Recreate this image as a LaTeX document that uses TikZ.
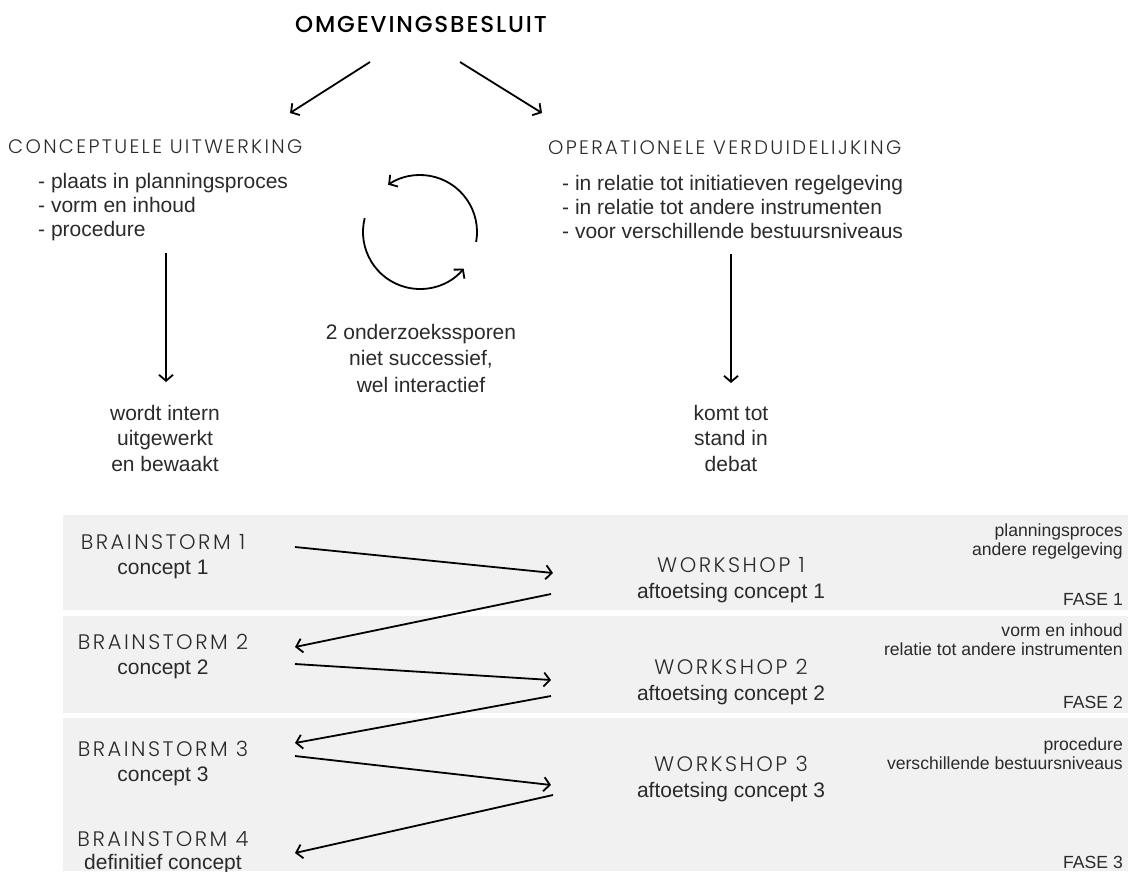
\documentclass[tikz,border=0pt]{standalone}
\usepackage{fontspec}
\setmainfont{Liberation Sans}
\newfontfamily\headfont[LetterSpace=12]{Poppins Light}
\newfontfamily\titlefont[LetterSpace=8]{Poppins Medium}
\usetikzlibrary{arrows.meta}
\definecolor{bandgray}{HTML}{F1F1F1}
\definecolor{ink}{HTML}{2A2A2A}
\tikzset{
  txt/.style={inner sep=0pt, text=ink},
  bodytext/.style={txt, font=\fontsize{21}{24}\selectfont},
  headtext/.style={txt, font=\headfont\fontsize{19.5}{22}\selectfont},
  titletext/.style={txt, text=black, font=\titlefont\fontsize{23}{25}\selectfont},
  stacked/.style={txt, align=center, font=\fontsize{21}{#1}\selectfont},
  sidenote/.style={txt, align=right, anchor=east, font=\fontsize{17.6}{19}\selectfont},
  conn/.style={draw=black, line width=1.8pt,
    -{Straight Barb[length=6pt,width=14pt,line width=1.8pt]}},
  band/.style={fill=bandgray, draw=none}
}
\begin{document}
\begin{tikzpicture}[x=1pt,y=-1pt]
\useasboundingbox (0,0) rectangle (1128,871);

% phase bands
\path[band] (63,515) rectangle (1128,610);
\path[band] (63,616) rectangle (1128,713);
\path[band] (63,718) rectangle (1128,871);

% top: decision and its two research tracks
\node[titletext] (title) at (421,24) {OMGEVINGSBESLUIT};
\node[headtext, anchor=west] (cu) at (8,147) {CONCEPTUELE UITWERKING};
\node[bodytext, anchor=west, align=left] (cul) at (38,207)
  {- plaats in planningsproces\\- vorm en inhoud\\- procedure};
\node[headtext, anchor=west] (ov) at (548,148) {OPERATIONELE VERDUIDELIJKING};
\node[bodytext, anchor=west, align=left] (ovl) at (562,207)
  {- in relatie tot initiatieven regelgeving\\- in relatie tot andere instrumenten\\- voor verschillende bestuursniveaus};

\node[stacked=25.5] (cur) at (165,438) {wordt intern\\uitgewerkt\\en bewaakt};
\node[stacked=25.5] (ovr) at (731,438) {komt tot\\stand in\\debat};
\node[stacked=26.5] (loop) at (421,358) {2 onderzoekssporen\\niet successief,\\wel interactief};

\coordinate (tl) at (370,62);
\coordinate (tr) at (460,62);
\coordinate (cuin) at (290,113);
\coordinate (ovin) at (542,113);
\draw[conn] (tl) -- (cuin);
\draw[conn] (tr) -- (ovin);

\coordinate (culout) at (166,253);
\coordinate (curin) at (166,382);
\coordinate (ovlout) at (731,254);
\coordinate (ovrin) at (731,383);
\draw[conn] (culout) -- (curin);
\draw[conn] (ovlout) -- (ovrin);

% interaction loop
\begin{scope}[shift={(420,232)}, yscale=-1]
  \draw[conn] (-10:57) arc[start angle=-10, end angle=124, radius=57];
  \draw[conn] (166:57) arc[start angle=166, end angle=320, radius=57];
\end{scope}

% bottom: brainstorms and workshops per phase
\node[stacked=25] (b1) at (163,557) {{\headfont BRAINSTORM 1}\\concept 1};
\node[stacked=25] (b2) at (163,657) {{\headfont BRAINSTORM 2}\\concept 2};
\node[stacked=25] (b3) at (163,764) {{\headfont BRAINSTORM 3}\\concept 3};
\node[stacked=23] (b4) at (163,853) {{\headfont BRAINSTORM 4}\\definitief concept};

\node[stacked=26] (w1) at (731,580) {{\headfont WORKSHOP 1}\\aftoetsing concept 1};
\node[stacked=26] (w2) at (731,682) {{\headfont WORKSHOP 2}\\aftoetsing concept 2};
\node[stacked=26] (w3) at (731,779) {{\headfont WORKSHOP 3}\\aftoetsing concept 3};

\node[sidenote] (n1) at (1123,541) {planningsproces\\andere regelgeving};
\node[sidenote] (f1) at (1123,599) {FASE 1};
\node[sidenote] (n2) at (1123,640) {vorm en inhoud\\relatie tot andere instrumenten};
\node[sidenote] (f2) at (1123,702) {FASE 2};
\node[sidenote] (n3) at (1123,754) {procedure\\verschillende bestuursniveaus};
\node[sidenote] (f3) at (1123,862) {FASE 3};

\coordinate (b1o) at (295,547);  \coordinate (w1i) at (553,573);
\coordinate (w1o) at (551,594);  \coordinate (b2i) at (295,647);
\coordinate (b2o) at (295,664);  \coordinate (w2i) at (551,680);
\coordinate (w2o) at (551,696);  \coordinate (b3i) at (295,743);
\coordinate (b3o) at (295,756);  \coordinate (w3i) at (551,785);
\coordinate (w3o) at (553,795);  \coordinate (b4i) at (295,853);
\draw[conn] (b1o) -- (w1i);
\draw[conn] (w1o) -- (b2i);
\draw[conn] (b2o) -- (w2i);
\draw[conn] (w2o) -- (b3i);
\draw[conn] (b3o) -- (w3i);
\draw[conn] (w3o) -- (b4i);
\end{tikzpicture}
\end{document}
